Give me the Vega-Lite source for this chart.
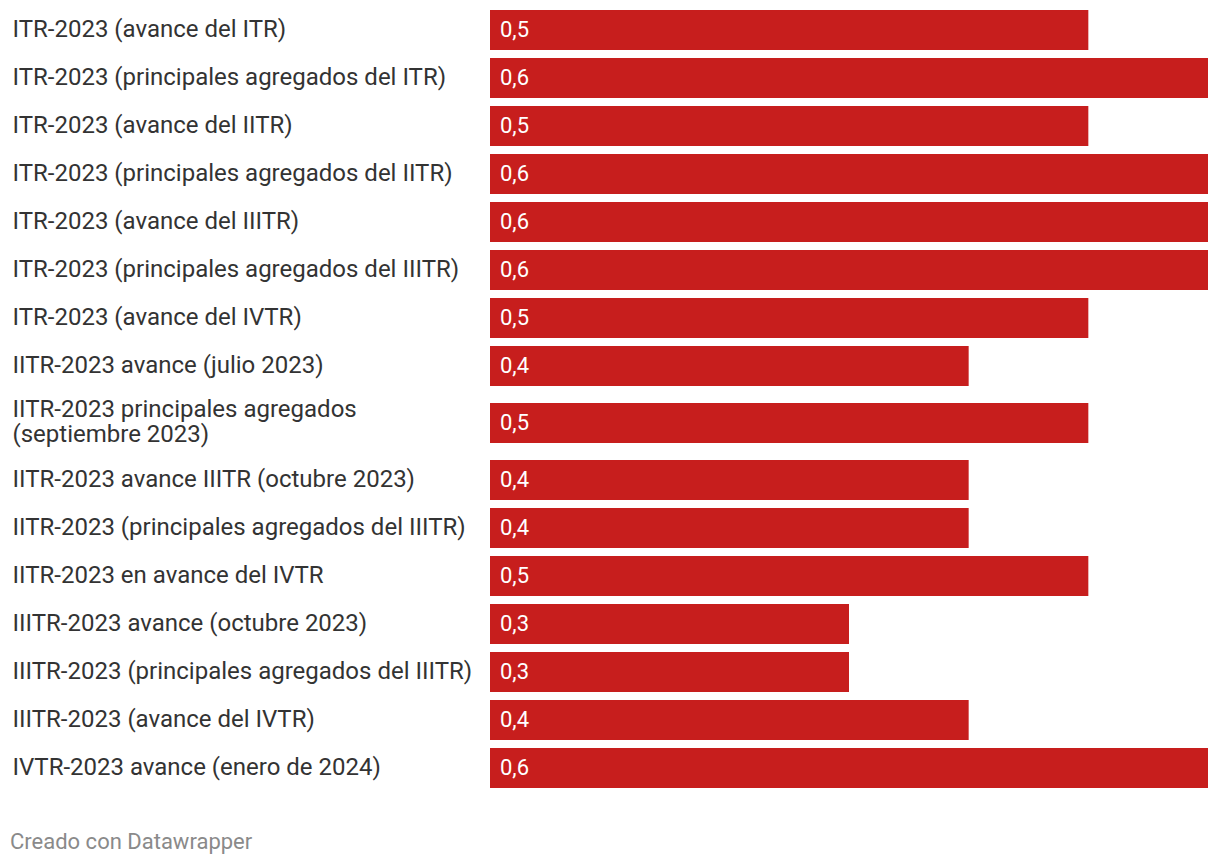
{
  "$schema": "https://vega.github.io/schema/vega-lite/v6.json",
  "padding": {"left": 10, "top": 6, "right": 12, "bottom": 10},
  "background": "#ffffff",
  "spacing": 0,
  "config": {
    "view": {"stroke": null},
    "font": "Roboto",
    "concat": {"spacing": 0},
    "locale": {"number": {"decimal": ",", "thousands": ".", "grouping": [3], "currency": ["", " €"]}},
    "axisY": {
      "title": null,
      "domain": false,
      "ticks": false,
      "labelAlign": "left",
      "labelPadding": 478,
      "labelFontSize": 24,
      "labelColor": "#333333",
      "labelFont": "Roboto",
      "labelLimit": 0,
      "labelLineHeight": 25
    }
  },
  "title": {
    "text": "Creado con Datawrapper",
    "orient": "bottom",
    "anchor": "start",
    "frame": "group",
    "dx": -480,
    "offset": 40,
    "fontSize": 22,
    "fontWeight": "normal",
    "color": "#8a8a8a",
    "font": "Roboto"
  },
  "datasets": {
    "bloque1": [
      {"serie": "ITR-2023 (avance del ITR)", "valor": 0.5},
      {"serie": "ITR-2023 (principales agregados del ITR)", "valor": 0.6},
      {"serie": "ITR-2023 (avance del IITR)", "valor": 0.5},
      {"serie": "ITR-2023 (principales agregados del IITR)", "valor": 0.6},
      {"serie": "ITR-2023 (avance del IIITR)", "valor": 0.6},
      {"serie": "ITR-2023 (principales agregados del IIITR)", "valor": 0.6},
      {"serie": "ITR-2023 (avance del IVTR)", "valor": 0.5},
      {"serie": "IITR-2023 avance (julio 2023)", "valor": 0.4}
    ],
    "bloque2": [
      {"serie": "IITR-2023 principales agregados\n(septiembre 2023)", "valor": 0.5}
    ],
    "bloque3": [
      {"serie": "IITR-2023 avance IIITR (octubre 2023)", "valor": 0.4},
      {"serie": "IITR-2023 (principales agregados del IIITR)", "valor": 0.4},
      {"serie": "IITR-2023 en avance del IVTR", "valor": 0.5},
      {"serie": "IIITR-2023 avance (octubre 2023)", "valor": 0.3},
      {"serie": "IIITR-2023 (principales agregados del IIITR)", "valor": 0.3},
      {"serie": "IIITR-2023 (avance del IVTR)", "valor": 0.4},
      {"serie": "IVTR-2023 avance (enero de 2024)", "valor": 0.6}
    ]
  },
  "vconcat": [
    {
      "data": {"name": "bloque1"},
      "width": 718,
      "height": 384,
      "encoding": {
        "y": {"field": "serie", "type": "nominal", "sort": null, "scale": {"paddingInner": 0.16667, "paddingOuter": 0.08333}}
      },
      "layer": [
        {
          "mark": {"type": "bar", "color": "#c71e1d"},
          "encoding": {"x": {"field": "valor", "type": "quantitative", "scale": {"domain": [0, 0.6], "nice": false}, "axis": null}}
        },
        {
          "mark": {"type": "text", "align": "left", "baseline": "middle", "dx": 10, "fontSize": 22, "color": "#ffffff", "font": "Roboto"},
          "encoding": {
            "x": {"datum": 0, "type": "quantitative", "scale": {"domain": [0, 0.6], "nice": false}},
            "text": {"field": "valor", "type": "quantitative", "format": ".1f"}
          }
        }
      ]
    },
    {
      "data": {"name": "bloque2"},
      "width": 718,
      "height": 66,
      "encoding": {
        "y": {
          "field": "serie", "type": "nominal", "sort": null,
          "scale": {"paddingInner": 0, "paddingOuter": 0.325},
          "axis": {"labelExpr": "split(datum.label, '\\n')", "labelOffset": -13}
        }
      },
      "layer": [
        {
          "mark": {"type": "bar", "color": "#c71e1d"},
          "encoding": {"x": {"field": "valor", "type": "quantitative", "scale": {"domain": [0, 0.6], "nice": false}, "axis": null}}
        },
        {
          "mark": {"type": "text", "align": "left", "baseline": "middle", "dx": 10, "fontSize": 22, "color": "#ffffff", "font": "Roboto"},
          "encoding": {
            "x": {"datum": 0, "type": "quantitative", "scale": {"domain": [0, 0.6], "nice": false}},
            "text": {"field": "valor", "type": "quantitative", "format": ".1f"}
          }
        }
      ]
    },
    {
      "data": {"name": "bloque3"},
      "width": 718,
      "height": 336,
      "encoding": {
        "y": {"field": "serie", "type": "nominal", "sort": null, "scale": {"paddingInner": 0.16667, "paddingOuter": 0.08333}}
      },
      "layer": [
        {
          "mark": {"type": "bar", "color": "#c71e1d"},
          "encoding": {"x": {"field": "valor", "type": "quantitative", "scale": {"domain": [0, 0.6], "nice": false}, "axis": null}}
        },
        {
          "mark": {"type": "text", "align": "left", "baseline": "middle", "dx": 10, "fontSize": 22, "color": "#ffffff", "font": "Roboto"},
          "encoding": {
            "x": {"datum": 0, "type": "quantitative", "scale": {"domain": [0, 0.6], "nice": false}},
            "text": {"field": "valor", "type": "quantitative", "format": ".1f"}
          }
        }
      ]
    }
  ]
}
